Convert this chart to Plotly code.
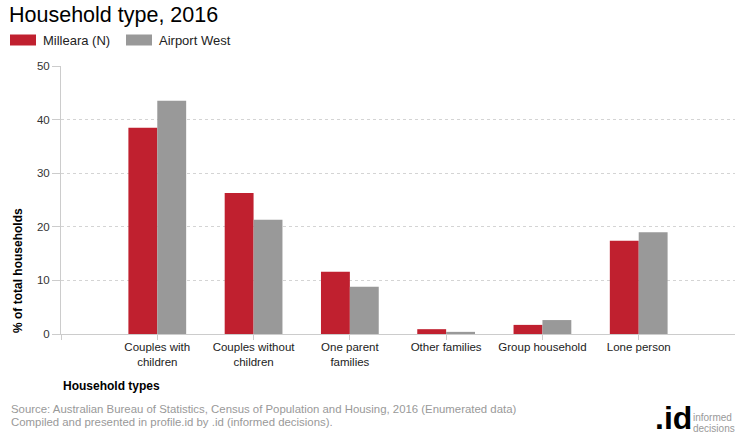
import plotly.graph_objects as go

categories = ["Couples with<br>children", "Couples without<br>children", "One parent<br>families",
              "Other families", "Group household", "Lone person"]
series_names = ["Milleara (N)", "Airport West"]
milleara = [38.5, 26.3, 11.6, 0.9, 1.7, 17.4]
airport_west = [43.5, 21.3, 8.8, 0.4, 2.6, 19.0]
y_ticks = [0, 10, 20, 30, 40, 50]

colors = ["#C0202F", "#999999"]
W, H = 740, 440
L, R, T, B = 61, 5, 66, 106
pw, ph = W - L - R, H - T - B

def px(x):
    return (x - L) / pw

def py(y):
    return (H - B - y) / ph

FONT = "Arial, Liberation Sans, sans-serif"
xs = list(range(len(categories)))

fig = go.Figure()
for name, vals, c in zip(series_names, [milleara, airport_west], colors):
    fig.add_trace(go.Bar(x=xs, y=vals, name=name, marker=dict(color=c, line=dict(width=0)),
                         showlegend=False, hovertemplate="%{y}<extra>" + name + "</extra>"))

fig.update_layout(
    width=W, height=H, margin=dict(l=L, r=R, t=T, b=B),
    paper_bgcolor="white", plot_bgcolor="white",
    barmode="group", bargap=0.4, bargroupgap=0,
    font=dict(family=FONT, size=11, color="#333333"),
    title=dict(text="Household type, 2016", xref="container", yref="container",
               x=9 / W, xanchor="left", y=1 - 14 / H, yanchor="middle",
               font=dict(family=FONT, size=21.5, color="#000000")),
)
fig.update_xaxes(range=[-1, len(categories)], tickmode="array",
                 tickvals=[-1] + xs, ticktext=[""] + categories,
                 showline=True, linecolor="#cccccc", linewidth=1,
                 ticks="outside", ticklen=5, tickcolor="#cccccc",
                 showgrid=False, zeroline=False, tickangle=0,
                 ticklabelstandoff=-3,
                 tickfont=dict(family=FONT, size=11.5, color="#222222"))
fig.update_yaxes(range=[0, 50], tickvals=y_ticks,
                 showline=True, linecolor="#cccccc", linewidth=1,
                 ticks="outside", ticklen=8, tickcolor="#cccccc",
                 showgrid=True, gridcolor="#d4d4d4", griddash="3px,3px", gridwidth=1,
                 zeroline=False,
                 tickfont=dict(family=FONT, size=11.5, color="#333333"))

# legend (custom)
leg_x = [10, 126]
for i, (name, c) in enumerate(zip(series_names, colors)):
    fig.add_shape(type="rect", xref="paper", yref="paper",
                  x0=px(leg_x[i]), x1=px(leg_x[i] + 26), y0=py(45.5), y1=py(34.5),
                  fillcolor=c, line=dict(width=0))
    fig.add_annotation(xref="paper", yref="paper", x=px(leg_x[i] + 31), y=py(40),
                       xanchor="left", yanchor="middle", showarrow=False, text=name,
                       font=dict(family=FONT, size=13, color="#222222"))

# axis titles
fig.add_annotation(xref="paper", yref="paper", x=px(18), y=py(271), textangle=-90,
                   xanchor="center", yanchor="middle", showarrow=False,
                   text="<b>% of total households</b>",
                   font=dict(family=FONT, size=12, color="#000000"))
fig.add_annotation(xref="paper", yref="paper", x=px(61), y=py(386),
                   xanchor="left", yanchor="middle", showarrow=False,
                   text="<b>Household types</b>",
                   font=dict(family=FONT, size=12, color="#000000"))

# footer
fig.add_annotation(xref="paper", yref="paper", x=px(9), y=py(409),
                   xanchor="left", yanchor="middle", showarrow=False,
                   text="Source: Australian Bureau of Statistics, Census of Population and Housing, 2016 (Enumerated data)",
                   font=dict(family=FONT, size=11.4, color="#999999"))
fig.add_annotation(xref="paper", yref="paper", x=px(9), y=py(422),
                   xanchor="left", yanchor="middle", showarrow=False,
                   text="Compiled and presented in profile.id by .id (informed decisions).",
                   font=dict(family=FONT, size=11.4, color="#999999"))

# logo
fig.add_annotation(xref="paper", yref="paper", x=px(653), y=py(438),
                   xanchor="left", yanchor="bottom", showarrow=False,
                   text="<b>.id</b>",
                   font=dict(family=FONT, size=32, color="#000000"))
fig.add_annotation(xref="paper", yref="paper", x=px(691), y=py(417.5),
                   xanchor="left", yanchor="middle", showarrow=False,
                   text="informed", font=dict(family=FONT, size=10, color="#999999"))
fig.add_annotation(xref="paper", yref="paper", x=px(691), y=py(428.5),
                   xanchor="left", yanchor="middle", showarrow=False,
                   text="decisions", font=dict(family=FONT, size=10, color="#999999"))

fig.write_html("out.html", config={"displayModeBar": False},
               post_script="document.body.style.margin='0';")
